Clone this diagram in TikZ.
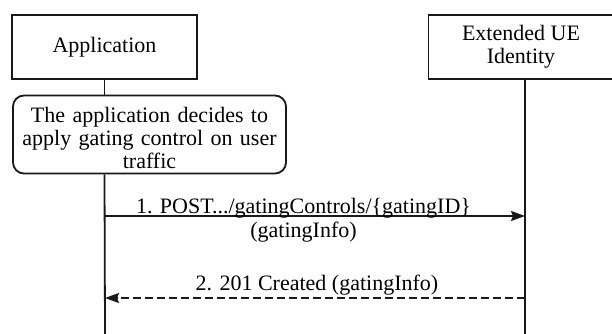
\documentclass[tikz,border=0pt]{standalone}
\usepackage{fontspec}
\setmainfont{Liberation Serif}
\usetikzlibrary{arrows.meta}
\begin{document}
\begin{tikzpicture}[x=1pt,y=-1pt,
  every node/.style={font=\fontsize{22}{24}\selectfont, text=black},
  actor/.style={draw=black!90, line width=1.8pt, fill=white, inner sep=0pt, align=center},
  note/.style={draw=black!90, line width=1.8pt, fill=white, inner sep=0pt, rounded corners=11pt, align=center, text width=262pt, font=\fontsize{22}{23}\selectfont},
  lifeline/.style={draw=black!90, line width=1.8pt},
  msg/.style={draw=black!90, line width=1.5pt, -{Stealth[length=14pt,width=10pt,inset=2pt]}},
  reply/.style={msg, dash pattern=on 8pt off 4pt},
  lbl/.style={inner sep=0pt, align=center}
]
\useasboundingbox (0,0) rectangle (612,334);
\fill[white] (0,0) rectangle (612,334);
\node[actor, minimum width=185pt, minimum height=64pt] (app) at (104.5,47) {Application};
\node[actor, minimum width=185pt, minimum height=64pt, font=\fontsize{22}{23}\selectfont] (ext) at (521,47) {Extended UE\\Identity};
\node[note, minimum width=273pt, minimum height=78pt] (decide) at (149.5,134.5) {\rule{0pt}{23pt}The application decides to\\apply gating control on user\\traffic};
\coordinate (appEnd) at (105,334);
\coordinate (extTop) at (525,80);
\coordinate (extEnd) at (525,334);
\coordinate (a1) at (105,216);
\coordinate (b1) at (525,216);
\coordinate (a2) at (105,298);
\coordinate (b2) at (525,298);
\draw[lifeline] (app.south) -- (decide.north -| app.south);
\draw[lifeline] (decide.south -| app.south) -- (appEnd);
\draw[lifeline] (extTop) -- (extEnd);
\draw[msg] (a1) -- (b1);
\draw[reply] (b2) -- (a2);
\node[lbl] (l1) at (303.5,220) {1. POST.../gatingControls/\{gatingID\}\\(gatingInfo)};
\node[lbl, anchor=base] (l2) at (317,290) {2. 201 Created (gatingInfo)};
\end{tikzpicture}
\end{document}
